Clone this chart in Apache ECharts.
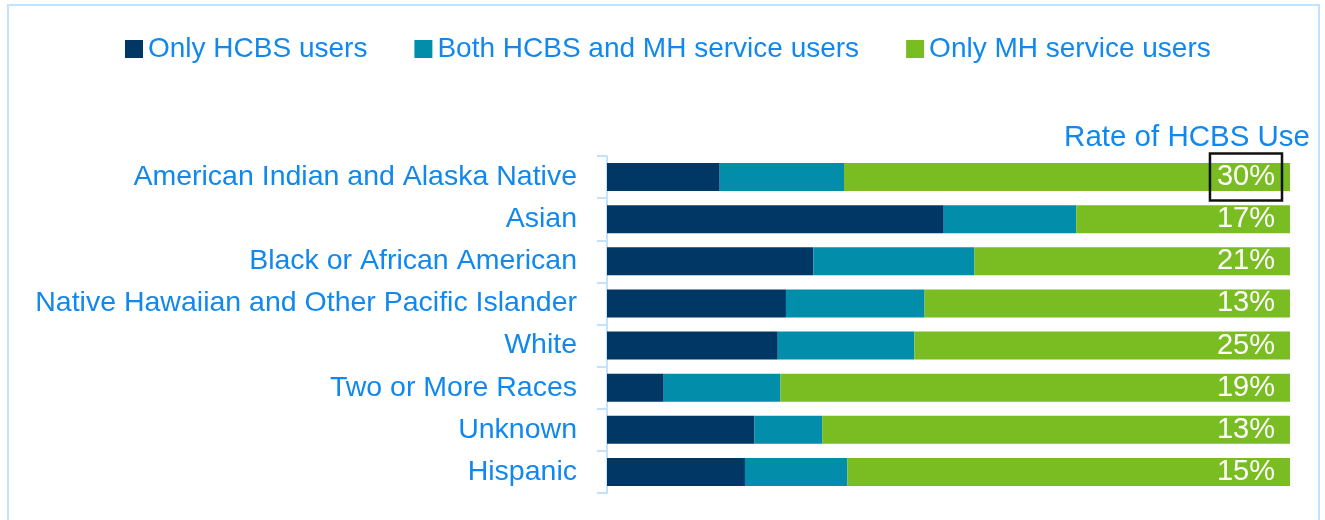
<!DOCTYPE html>
<html>
<head>
<meta charset="utf-8">
<script src="https://cdn.jsdelivr.net/npm/echarts@6/dist/echarts.min.js"></script>
<style>
  body { margin: 0; background: #fff; }
  #frame { position: absolute; left: 7px; top: 4px; width: 1313px; height: 530px; border: 2px solid #c3e2fb; box-sizing: border-box; }
  #chart { position: absolute; left: 0; top: 0; width: 1325px; height: 520px; }
</style>
</head>
<body>
<div id="frame"></div>
<div id="chart"></div>
<script>
// groups, top to bottom
const groups = [
  "American Indian and Alaska Native",
  "Asian",
  "Black or African American",
  "Native Hawaiian and Other Pacific Islander",
  "White",
  "Two or More Races",
  "Unknown",
  "Hispanic"
];
// shares of each group (percent)
const onlyHcbs = [16.5, 49.3, 30.2, 26.2, 25.0, 8.3, 21.6, 20.2];
const bothHcbsMh = [18.2, 19.4, 23.6, 20.3, 20.0, 17.1, 9.9, 15.0];
const onlyMh = [65.3, 31.3, 46.2, 53.5, 55.0, 74.6, 68.5, 64.8];
// rate of HCBS use labels
const hcbsRate = ["30%", "17%", "21%", "13%", "25%", "19%", "13%", "15%"];

const blue = "#1188ee";
const font = "Liberation Sans";

const chart = echarts.init(document.getElementById("chart"));

const mhData = onlyMh.map((v, i) => {
  if (i === 0) {
    return {
      value: v,
      label: { borderColor: "#111", borderWidth: 2.5, padding: [10, 7, 8, 7], distance: 8 }
    };
  }
  return v;
});

chart.setOption({
  animation: false,
  textStyle: { fontFamily: font },
  title: {
    text: "Rate of HCBS Use",
    right: 10,
    top: 118,
    textStyle: { color: blue, fontSize: 29.5, fontWeight: "normal", fontFamily: font }
  },
  legend: {
    left: 120,
    top: 30,
    itemWidth: 18,
    itemHeight: 18,
    itemGap: 47,
    icon: "rect",
    textStyle: { color: blue, fontSize: 28, fontFamily: font },
    data: ["Only HCBS users", "Both HCBS and MH service users", "Only MH service users"]
  },
  grid: { left: 607, right: 35, top: 156, bottom: 27 },
  xAxis: {
    type: "value",
    min: 0,
    max: 100,
    show: false
  },
  yAxis: {
    type: "category",
    inverse: true,
    data: groups,
    axisLine: { show: true, lineStyle: { color: "#c3e2fb", width: 2 } },
    axisTick: { show: true, length: 10, lineStyle: { color: "#c3e2fb", width: 2 } },
    axisLabel: { color: blue, fontSize: 28.5, margin: 30, fontFamily: font }
  },
  series: [
    {
      name: "Only HCBS users",
      type: "bar",
      stack: "all",
      barWidth: 28,
      itemStyle: { color: "#003764" },
      data: onlyHcbs
    },
    {
      name: "Both HCBS and MH service users",
      type: "bar",
      stack: "all",
      barWidth: 28,
      itemStyle: { color: "#028eaa" },
      data: bothHcbsMh
    },
    {
      name: "Only MH service users",
      type: "bar",
      stack: "all",
      barWidth: 28,
      itemStyle: { color: "#79bd22" },
      label: {
        show: true,
        position: "insideRight",
        distance: 15,
        color: "#fff",
        fontSize: 29,
        fontFamily: font,
        formatter: p => hcbsRate[p.dataIndex]
      },
      data: mhData
    }
  ]
});
</script>
</body>
</html>
